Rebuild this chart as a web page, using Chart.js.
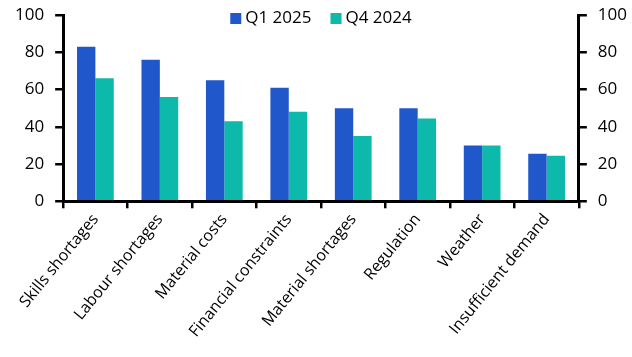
<!DOCTYPE html>
<html><head><meta charset="utf-8">
<script src="https://cdn.jsdelivr.net/npm/chart.js@4"></script>
<style>html,body{margin:0;padding:0;background:#fff;}#c{display:block;}</style>
</head><body>
<canvas id="c" width="632" height="357"></canvas>
<script>
const categories = ["Skills shortages","Labour shortages","Material costs","Financial constraints","Material shortages","Regulation","Weather","Insufficient demand"];
const q1_2025 = [83, 76, 65, 61, 50, 50, 30, 25.5];
const q4_2024 = [66, 56, 43, 48, 35, 44.5, 30, 24.5];
const seriesNames = ["Q1 2025", "Q4 2024"];
const yTicks = [0, 20, 40, 60, 80, 100];

const FONT = "'Open Sans', 'DejaVu Sans', sans-serif";
function yAxis(pos) {
  return {
    position: pos,
    min: 0, max: 100,
    afterFit: s => { s.paddingTop = 0; },
    ticks: { stepSize: 20, color: '#000', font: { family: FONT, size: 17 }, padding: 11,
             callback: v => yTicks.includes(v) ? v : '' },
    grid: { drawOnChartArea: false, drawTicks: true, tickLength: 8, color: '#000', lineWidth: 2.5 },
    border: { display: true, color: '#000', width: 3 }
  };
}
const insideLegend = {
  id: 'insideLegend',
  afterDraw(chart) {
    const ctx = chart.ctx, ca = chart.chartArea;
    const box = 11, gap = 4, itemGap = 19, yc = 18.5;
    ctx.save();
    ctx.font = "17px " + FONT;
    const items = chart.data.datasets.map(d => ({ label: d.label, color: d.backgroundColor, w: ctx.measureText(d.label).width }));
    let total = items.reduce((s, it) => s + box + gap + it.w, 0) + itemGap * (items.length - 1);
    let x = (ca.left + ca.right) / 2 - total / 2;
    ctx.textBaseline = 'middle';
    ctx.textAlign = 'left';
    items.forEach(it => {
      ctx.fillStyle = it.color;
      ctx.fillRect(x, yc - box / 2, box, box);
      x += box + gap;
      ctx.fillStyle = '#000';
      ctx.fillText(it.label, x, yc);
      x += it.w + itemGap;
    });
    ctx.restore();
  }
};
new Chart(document.getElementById('c'), {
  type: 'bar',
  data: {
    labels: categories,
    datasets: [
      { label: seriesNames[0], data: q1_2025, backgroundColor: '#2058CC', yAxisID: 'y' },
      { label: seriesNames[1], data: q4_2024, backgroundColor: '#0DB9AA', yAxisID: 'y' }
    ]
  },
  options: {
    responsive: false,
    animation: false,
    layout: { padding: { top: 15, right: -6, left: 4, bottom: 14 } },
    datasets: { bar: { categoryPercentage: 0.57, barPercentage: 1 } },
    plugins: {
      legend: { display: false },
      tooltip: { enabled: false }
    },
    scales: {
      x: {
        ticks: { color: '#000', font: { family: FONT, size: 16 }, minRotation: 51, maxRotation: 51, padding: 2 },
        grid: { drawOnChartArea: false, offset: true, drawTicks: true, tickLength: 7, color: '#000', lineWidth: 2.5 },
        border: { display: true, color: '#000', width: 3 }
      },
      y: yAxis('left'),
      y2: yAxis('right')
    }
  },
  plugins: [insideLegend]
});
</script>
</body></html>
